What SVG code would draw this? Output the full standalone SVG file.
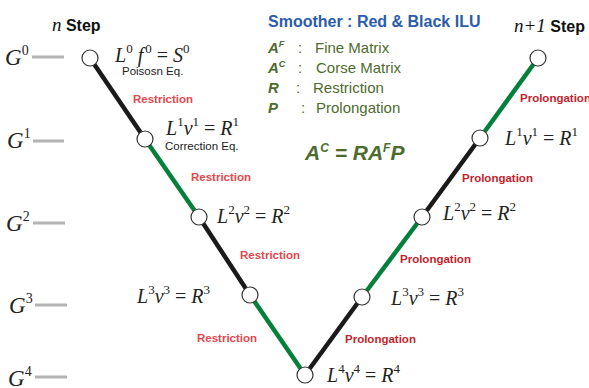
<svg xmlns="http://www.w3.org/2000/svg" width="589" height="388" viewBox="0 0 589 388">
<style>
.eq{font-family:"Liberation Serif",serif;font-size:20px;fill:#222}
.it{font-style:italic}
.sup{font-size:13px}
.g{font-family:"Liberation Serif",serif;font-size:23px;fill:#222}
.gsup{font-size:14px}
.lvl{stroke:#b3b3b3;stroke-width:3}
.node{fill:#fff;stroke:#333;stroke-width:1.2}
.blk{stroke:#1a1a1a;stroke-width:4.5;fill:none}
.grn{stroke:#05803c;stroke-width:4.5;fill:none}
.res{font-family:"Liberation Sans",sans-serif;font-weight:bold;font-size:11.5px;fill:#e4474d}
.pro{font-family:"Liberation Sans",sans-serif;font-weight:bold;font-size:11.5px;fill:#c41f2d}
.note{font-family:"Liberation Sans",sans-serif;font-size:11.5px;fill:#222}
.step{font-family:"Liberation Sans",sans-serif;font-weight:bold;font-size:16px;fill:#111}
.leg{font-family:"Liberation Sans",sans-serif;font-size:15px;fill:#4e6b2e}
.legb{font-family:"Liberation Sans",sans-serif;font-size:15px;font-weight:bold;font-style:italic;fill:#4e6b2e}
</style>

<g id="levels">
<line class="lvl" x1="32" y1="57" x2="64" y2="57"/>
<line class="lvl" x1="33" y1="141" x2="64" y2="141"/>
<line class="lvl" x1="33" y1="223" x2="65" y2="223"/>
<line class="lvl" x1="35" y1="305" x2="67" y2="305"/>
<line class="lvl" x1="35" y1="377" x2="67" y2="377"/>
<text class="g" x="5" y="65"><tspan class="it">G</tspan><tspan class="gsup" dy="-10">0</tspan></text>
<text class="g" x="7" y="148"><tspan class="it">G</tspan><tspan class="gsup" dy="-10">1</tspan></text>
<text class="g" x="6" y="231"><tspan class="it">G</tspan><tspan class="gsup" dy="-10">2</tspan></text>
<text class="g" x="9" y="313"><tspan class="it">G</tspan><tspan class="gsup" dy="-10">3</tspan></text>
<text class="g" x="8" y="386"><tspan class="it">G</tspan><tspan class="gsup" dy="-10">4</tspan></text>
</g>

<g id="connectors">
<line class="blk" x1="90" y1="58" x2="145" y2="139"/>
<line class="grn" x1="145" y1="139" x2="199" y2="217"/>
<line class="blk" x1="199" y1="217" x2="250" y2="295"/>
<line class="grn" x1="250" y1="295" x2="305" y2="375"/>
<line class="blk" x1="305" y1="375" x2="362" y2="297"/>
<line class="grn" x1="362" y1="297" x2="422" y2="217"/>
<line class="blk" x1="422" y1="217" x2="480" y2="138"/>
<line class="grn" x1="480" y1="138" x2="538" y2="58"/>
</g>

<g id="node0"><circle class="node" cx="90" cy="58" r="8"/></g>
<g id="node1"><circle class="node" cx="145" cy="139" r="8"/></g>
<g id="node2"><circle class="node" cx="199" cy="217" r="8"/></g>
<g id="node3"><circle class="node" cx="250" cy="295" r="8"/></g>
<g id="node4"><circle class="node" cx="305" cy="375" r="8"/></g>
<g id="node5"><circle class="node" cx="362" cy="297" r="8"/></g>
<g id="node6"><circle class="node" cx="422" cy="217" r="8"/></g>
<g id="node7"><circle class="node" cx="480" cy="138" r="8"/></g>
<g id="node8"><circle class="node" cx="538" cy="58" r="8"/></g>

<g id="equations">
<text class="eq" x="115" y="62"><tspan class="it">L</tspan><tspan class="sup" dy="-9">0</tspan><tspan class="it" dx="5" dy="9">f</tspan><tspan class="sup" dx="2" dy="-9">0</tspan><tspan dy="9"> = </tspan><tspan class="it">S</tspan><tspan class="sup" dy="-9">0</tspan></text>
<text class="note" x="122" y="75">Poisosn Eq.</text>
<text class="eq" x="166" y="135"><tspan class="it">L</tspan><tspan class="sup" dy="-9">1</tspan><tspan class="it" dy="9">v</tspan><tspan class="sup" dy="-9">1</tspan><tspan dy="9"> = </tspan><tspan class="it">R</tspan><tspan class="sup" dy="-9">1</tspan></text>
<text class="note" x="165" y="150">Correction Eq.</text>
<text class="eq" x="217" y="223"><tspan class="it">L</tspan><tspan class="sup" dy="-9">2</tspan><tspan class="it" dy="9">v</tspan><tspan class="sup" dy="-9">2</tspan><tspan dy="9"> = </tspan><tspan class="it">R</tspan><tspan class="sup" dy="-9">2</tspan></text>
<text class="eq" x="137" y="303"><tspan class="it">L</tspan><tspan class="sup" dy="-9">3</tspan><tspan class="it" dy="9">v</tspan><tspan class="sup" dy="-9">3</tspan><tspan dy="9"> = </tspan><tspan class="it">R</tspan><tspan class="sup" dy="-9">3</tspan></text>
<text class="eq" x="327" y="382"><tspan class="it">L</tspan><tspan class="sup" dy="-9">4</tspan><tspan class="it" dy="9">v</tspan><tspan class="sup" dy="-9">4</tspan><tspan dy="9"> = </tspan><tspan class="it">R</tspan><tspan class="sup" dy="-9">4</tspan></text>
<text class="eq" x="391" y="305"><tspan class="it">L</tspan><tspan class="sup" dy="-9">3</tspan><tspan class="it" dy="9">v</tspan><tspan class="sup" dy="-9">3</tspan><tspan dy="9"> = </tspan><tspan class="it">R</tspan><tspan class="sup" dy="-9">3</tspan></text>
<text class="eq" x="443" y="220"><tspan class="it">L</tspan><tspan class="sup" dy="-9">2</tspan><tspan class="it" dy="9">v</tspan><tspan class="sup" dy="-9">2</tspan><tspan dy="9"> = </tspan><tspan class="it">R</tspan><tspan class="sup" dy="-9">2</tspan></text>
<text class="eq" x="505" y="145"><tspan class="it">L</tspan><tspan class="sup" dy="-9">1</tspan><tspan class="it" dy="9">v</tspan><tspan class="sup" dy="-9">1</tspan><tspan dy="9"> = </tspan><tspan class="it">R</tspan><tspan class="sup" dy="-9">1</tspan></text>
</g>

<g id="edge-labels">
<text class="res" x="133" y="103">Restriction</text>
<text class="res" x="191" y="181">Restriction</text>
<text class="res" x="240" y="259">Restriction</text>
<text class="res" x="197" y="342">Restriction</text>
<text class="pro" x="345" y="343">Prolongation</text>
<text class="pro" x="400" y="263">Prolongation</text>
<text class="pro" x="462" y="182">Prolongation</text>
<text class="pro" x="520" y="102">Prolongation</text>
</g>

<g id="headers">
<text class="step" x="52" y="31"><tspan font-family="Liberation Serif" font-style="italic" font-weight="normal" font-size="19px">n</tspan> Step</text>
<text class="step" x="514" y="32"><tspan font-family="Liberation Serif" font-style="italic" font-weight="normal" font-size="19px">n+1</tspan> Step</text>
<text x="268" y="27" font-family="Liberation Sans, sans-serif" font-weight="bold" font-size="16px" fill="#2b5cab">Smoother : Red &amp; Black ILU</text>
</g>

<g id="legend">
<text class="legb" x="268" y="53">A<tspan font-size="9px" dy="-6">F</tspan></text>
<text class="leg" x="298" y="53">:</text>
<text class="leg" x="315" y="53">Fine Matrix</text>
<text class="legb" x="268" y="73">A<tspan font-size="9px" dy="-6">C</tspan></text>
<text class="leg" x="298" y="73">:</text>
<text class="leg" x="316" y="73">Corse Matrix</text>
<text class="legb" x="268" y="93">R</text>
<text class="leg" x="296" y="93">:</text>
<text class="leg" x="313" y="93">Restriction</text>
<text class="legb" x="268" y="113">P</text>
<text class="leg" x="301" y="113">:</text>
<text class="leg" x="316" y="113">Prolongation</text>
<text class="legb" x="305" y="160" style="font-size:21px">A<tspan style="font-size:12px" dy="-8">C</tspan><tspan dy="8"> = RA</tspan><tspan style="font-size:12px" dy="-8">F</tspan><tspan dy="8">P</tspan></text>
</g>
</svg>
